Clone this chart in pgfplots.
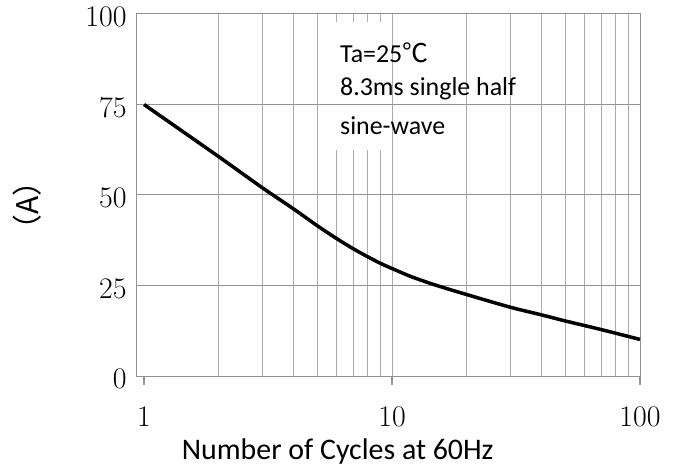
\documentclass[border=0pt]{standalone}
\usepackage{fontspec}
\setmainfont{Carlito}
\newfontfamily\cjk{Noto Sans CJK SC}
\newfontfamily\lmr{Latin Modern Roman}
\usepackage{pgfplots}
\pgfplotsset{compat=1.18}
\begin{document}
\begin{tikzpicture}
\begin{axis}[
  xmode=log, log basis x=10,
  width=503bp, height=362bp, scale only axis,
  xmin=0.937, xmax=100, ymin=0, ymax=100,
  xtick={1,10,100}, xticklabels={1,10,100},
  minor xtick={2,3,4,5,6,7,8,9,10,20,30,40,50,60,70,80,90},
  xminorgrids, ymajorgrids,
  ytick={0,25,50,75,100},
  /pgf/number format/assume math mode=true,
  minor grid style={gray!65, line width=1bp},
  major grid style={gray!85, line width=1bp},
  axis line style={gray!85, line width=1bp},
  xtick style={gray!85, line width=1.5bp},
  ytick style={draw=none},
  xtick pos=bottom, ytick pos=left,
  tick align=outside, major tick length=9bp, minor tick length=0pt,
  tick label style={font=\lmr\fontsize{30}{32}\selectfont},
  xticklabel style={yshift=-18bp},
  yticklabel style={yshift=-3bp, xshift=2bp},
  clip=false,
]
\coordinate (o) at (rel axis cs:0,0);
\fill[white] (axis cs:5.62,62.4) rectangle (axis cs:9.72,97.8);
\draw[gray!85, line width=1bp] (axis cs:5.5,75) -- (axis cs:9.8,75);
\addplot[black, line width=3.5bp, smooth] coordinates {
  (1,75) (2,60.6) (3,52.0) (4,46.2) (5,41.5) (6,37.9) (7,35.1) (8,32.9)
  (9,31.1) (10,29.7) (12,27.4) (15,25.1) (20,22.5) (30,19.0) (40,16.9)
  (50,15.2) (70,12.8) (100,10.1)
};
\node[anchor=base west, font=\fontsize{26}{28}\selectfont, inner sep=0pt] at (axis cs:6.17,86.7) {Ta=25{\cjk ℃}};
\node[anchor=base west, font=\fontsize{26}{28}\selectfont, inner sep=0pt] at (axis cs:6.17,77.6) {8.3ms single half};
\node[anchor=base west, font=\fontsize{26}{28}\selectfont, inner sep=0pt] at (axis cs:6.17,66.6) {sine-wave};
\node[font=\fontsize{30}{32}\selectfont] at ([yshift=-76bp]rel axis cs:0.399,0) {Number of Cycles at 60Hz};
\node[rotate=90, font=\cjk\fontsize{30}{32}\selectfont] at ([xshift=-110bp]rel axis cs:0,0.472) {（A）};
\end{axis}
\path (o) ++(-137bp,-98bp) rectangle ++(678bp,474bp);
\end{tikzpicture}
\end{document}
